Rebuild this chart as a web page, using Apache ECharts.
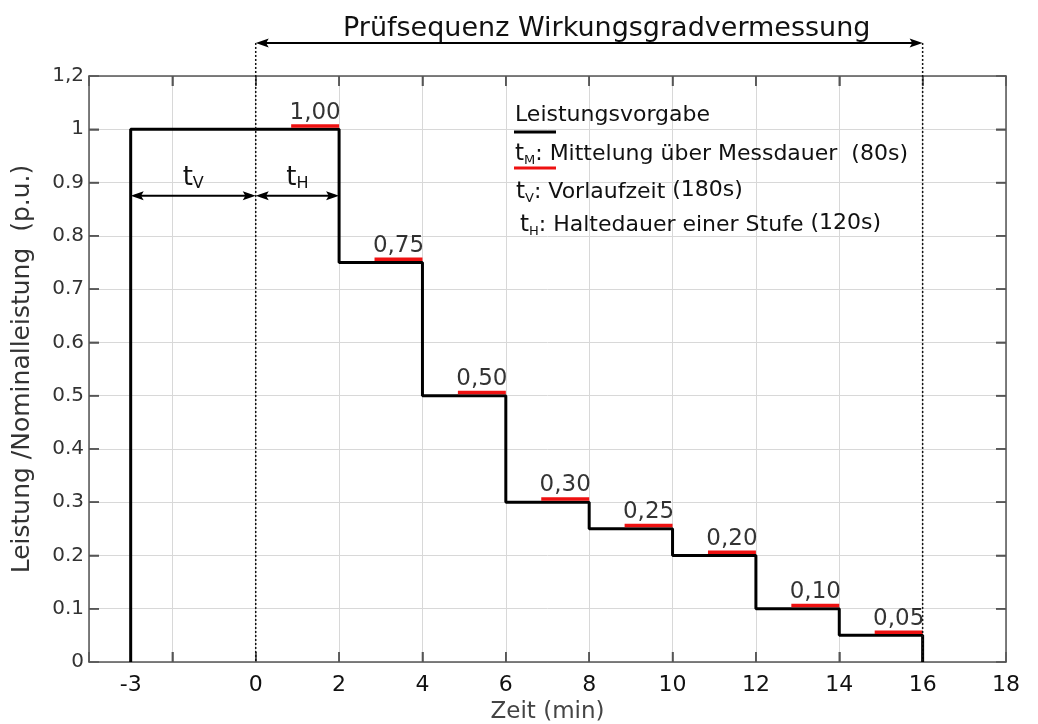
<!DOCTYPE html>
<html>
<head>
<meta charset="utf-8">
<script src="https://cdn.jsdelivr.net/npm/echarts@6/dist/echarts.min.js"></script>
<style>
html, body { margin: 0; padding: 0; background: #fff; }
#chart { width: 1038px; height: 724px; }
</style>
</head>
<body>
<div id="chart"></div>
<script>
// Stufen der Leistungsvorgabe (Zeit in min, Leistung in p.u.)
const stufenStart = [-3, 2, 4, 6, 8, 10, 12, 14]
const stufenEnde = [2, 4, 6, 8, 10, 12, 14, 16]
const leistung = [1, 0.75, 0.5, 0.3, 0.25, 0.2, 0.1, 0.05]

// Mittelung über Messdauer (rote Balken)
const mittelStart = [0.85, 2.85, 4.85, 6.85, 8.85, 10.85, 12.85, 14.85]
const mittelEnde = [2, 4, 6, 8, 10, 12, 14, 16]
const mittelWert = [1.006, 0.756, 0.506, 0.306, 0.256, 0.206, 0.106, 0.056]
const stufenText = ['1,00', '0,75', '0,50', '0,30', '0,25', '0,20', '0,10', '0,05']

// Achsenbeschriftung / Teilstriche
const xLabels = [-3, 0, 2, 4, 6, 8, 10, 12, 14, 16, 18]
const xTicks = [-2, 0, 2, 4, 6, 8, 10, 12, 14, 16]
const yTicks = [0.1, 0.2, 0.3, 0.4, 0.5, 0.6, 0.7, 0.8, 0.9, 1]

// Pfeile / Zeitspannen
const pruefSpanne = [0, 16]
const pruefY = 1.162
const tV = [-3, 0]
const tH = [0, 2]
const pfeilY = 0.875
const tLabelY = 0.908

const FONT = 'DejaVu Sans'
const X_MIN = -4
const X_MAX = 18
const Y_MIN = 0
const Y_MAX = 1.1

const stufenPunkte = [[stufenStart[0], 0]]
stufenStart.forEach((s, i) => {
  stufenPunkte.push([s, leistung[i]], [stufenEnde[i], leistung[i]])
})
stufenPunkte.push([stufenEnde[stufenEnde.length - 1], 0])

// jede Achse bekommt eigene Objekte
const axisLine = () => ({ show: true, onZero: false, lineStyle: { color: '#555', width: 1.5 } })
const axisTick = () => ({ show: true, inside: true, length: 10, lineStyle: { color: '#555', width: 1.5 } })

const chart = echarts.init(document.getElementById('chart'))

const option = {
  animation: false,
  textStyle: { fontFamily: FONT },
  title: {
    text: 'Prüfsequenz Wirkungsgradvermessung',
    left: 338,
    top: 10,
    textStyle: { fontFamily: FONT, fontSize: 27, fontWeight: 'normal', color: '#111' },
  },
  grid: { left: 89, right: 32, top: 76, bottom: 62, outerBoundsMode: 'none' },
  xAxis: [
    {
      type: 'value',
      min: X_MIN,
      max: X_MAX,
      interval: 2,
      position: 'bottom',
      axisLine: axisLine(),
      axisTick: axisTick(),
      name: 'Zeit (min)',
      nameLocation: 'middle',
      nameGap: 37,
      nameTextStyle: { fontFamily: FONT, fontSize: 23, color: '#444' },
      axisLabel: {
        customValues: xLabels,
        fontFamily: FONT,
        fontSize: 22,
        color: '#111',
        margin: 12,
      },
      splitLine: { show: true, lineStyle: { color: '#d8d8d8', width: 1 } },
    },
    {
      type: 'value',
      min: X_MIN,
      max: X_MAX,
      interval: 2,
      position: 'top',
      axisLine: axisLine(),
      axisTick: axisTick(),
      axisLabel: { show: false },
      splitLine: { show: false },
    },
  ],
  yAxis: [
    {
      type: 'value',
      min: Y_MIN,
      max: Y_MAX,
      interval: 0.1,
      position: 'left',
      axisLine: axisLine(),
      axisTick: axisTick(),
      name: 'Leistung /Nominalleistung  (p.u.)',
      nameLocation: 'middle',
      nameGap: 54,
      nameRotate: 90,
      nameTextStyle: { fontFamily: FONT, fontSize: 25, color: '#333' },
      axisLabel: {
        fontFamily: FONT,
        fontSize: 20,
        color: '#333',
        margin: 5,
        formatter: (v) => {
          if (Math.abs(v - 1.1) < 1e-6) return '1,2'
          if (Math.abs(v - 1) < 1e-6) return '1'
          if (v === 0) return '0'
          return v.toFixed(1)
        },
      },
      splitLine: { show: true, lineStyle: { color: '#d8d8d8', width: 1 } },
    },
    {
      type: 'value',
      min: Y_MIN,
      max: Y_MAX,
      interval: 0.1,
      position: 'right',
      axisLine: axisLine(),
      axisTick: axisTick(),
      axisLabel: { show: false },
      splitLine: { show: false },
    },
  ],
  series: [
    {
      name: 'Leistungsvorgabe',
      type: 'line',
      data: stufenPunkte,
      showSymbol: false,
      symbol: 'none',
      lineStyle: { color: '#000', width: 3 },
      z: 3,
    },
    ...mittelStart.map((s, i) => ({
      type: 'line',
      data: [
        [s, mittelWert[i]],
        [mittelEnde[i], mittelWert[i]],
      ],
      symbol: 'none',
      lineStyle: { color: '#ee1111', width: 3.5 },
      z: 4,
    })),
    {
      type: 'scatter',
      data: mittelStart.map((s, i) => [(s + mittelEnde[i]) / 2, mittelWert[i]]),
      symbolSize: 0,
      label: {
        show: true,
        position: 'top',
        distance: 2,
        fontFamily: FONT,
        fontSize: 23,
        color: '#000',
        formatter: ({ dataIndex }) => stufenText[dataIndex],
      },
      z: 5,
    },
  ],
}

chart.setOption(option)

// Pfeile und Beschriftungen (Positionen aus Datenkoordinaten)
const px = (x, y) => chart.convertToPixel({ gridIndex: 0 }, [x, y])

function doppelPfeil(x1, x2, y) {
  const a = px(x1, y)
  const b = px(x2, y)
  const L = 13
  const W = 4.5
  return [
    {
      type: 'line',
      shape: { x1: a[0] + 4, y1: a[1], x2: b[0] - 4, y2: b[1] },
      style: { stroke: '#000', lineWidth: 2 },
    },
    {
      type: 'polygon',
      shape: { points: [[a[0], a[1]], [a[0] + L, a[1] - W], [a[0] + L * 0.8, a[1]], [a[0] + L, a[1] + W]] },
      style: { fill: '#000' },
    },
    {
      type: 'polygon',
      shape: { points: [[b[0], b[1]], [b[0] - L, b[1] - W], [b[0] - L * 0.8, b[1]], [b[0] - L, b[1] + W]] },
      style: { fill: '#000' },
    },
  ]
}

function gepunktet(x, yTop) {
  const a = px(x, yTop)
  const b = px(x, 0)
  return {
    type: 'line',
    shape: { x1: a[0], y1: a[1], x2: b[0], y2: b[1] },
    style: { stroke: '#111', lineWidth: 1.5, lineDash: [2, 2] },
    z: 10,
  }
}

// Teilstriche nach innen an allen vier Seiten (Absicherung)
function teilstrich(p1, dx, dy) {
  return {
    type: 'line',
    shape: { x1: p1[0], y1: p1[1], x2: p1[0] + dx, y2: p1[1] + dy },
    style: { stroke: '#555', lineWidth: 1.5 },
    z: 1,
  }
}
const TL = 10
const striche = []
xTicks.forEach((v) => {
  striche.push(teilstrich(px(v, Y_MIN), 0, -TL), teilstrich(px(v, Y_MAX), 0, TL))
})
yTicks.forEach((v) => {
  striche.push(teilstrich(px(X_MIN, v), TL, 0), teilstrich(px(X_MAX, v), -TL, 0))
})

function tLabel(span, sub) {
  const p = px((span[0] + span[1]) / 2, tLabelY)
  return {
    type: 'text',
    x: p[0],
    y: p[1],
    style: {
      text: `{t|t}{s|${sub}}`,
      align: 'center',
      verticalAlign: 'middle',
      rich: {
        t: { fontFamily: FONT, fontSize: 26, lineHeight: 28, fill: '#111' },
        s: { fontFamily: FONT, fontSize: 16, lineHeight: 14, verticalAlign: 'bottom', fill: '#111' },
      },
    },
    z: 10,
  }
}

const legendRich = {
  t: { fontFamily: FONT, fontSize: 23, lineHeight: 26, fill: '#111' },
  s: { fontFamily: FONT, fontSize: 13, lineHeight: 20, verticalAlign: 'bottom', fill: '#111' },
  n: { fontFamily: FONT, fontSize: 22, lineHeight: 26, fill: '#111' },
  h: { fontFamily: FONT, fontSize: 22, lineHeight: 14, verticalAlign: 'top', fill: '#111' },
}

function legendText(x, y, text) {
  return {
    type: 'text',
    x,
    y,
    style: { text, rich: legendRich },
    z: 10,
  }
}

const graphics = [
  ...striche,
  gepunktet(pruefSpanne[0], pruefY),
  gepunktet(pruefSpanne[1], pruefY),
  ...doppelPfeil(pruefSpanne[0], pruefSpanne[1], pruefY),
  ...doppelPfeil(tV[0], tV[1], pfeilY),
  ...doppelPfeil(tH[0], tH[1], pfeilY),
  tLabel(tV, 'V'),
  tLabel(tH, 'H'),
  legendText(515, 102, '{n|Leistungsvorgabe}'),
  {
    type: 'line',
    shape: { x1: 514, y1: 132, x2: 556, y2: 132 },
    style: { stroke: '#000', lineWidth: 3 },
    z: 10,
  },
  legendText(515, 141, '{t|t}{s|M}{n|: Mittelung über Messdauer  (80s)}'),
  {
    type: 'line',
    shape: { x1: 514, y1: 168, x2: 556, y2: 168 },
    style: { stroke: '#ee1111', lineWidth: 3 },
    z: 10,
  },
  legendText(516, 179, '{t|t}{s|V}{n|: Vorlaufzeit }{h|(180s)}'),
  legendText(520, 212, '{t|t}{s|H}{n|: Haltedauer einer Stufe }{h|(120s)}'),
]

chart.setOption({ graphic: graphics })
</script>
</body>
</html>
